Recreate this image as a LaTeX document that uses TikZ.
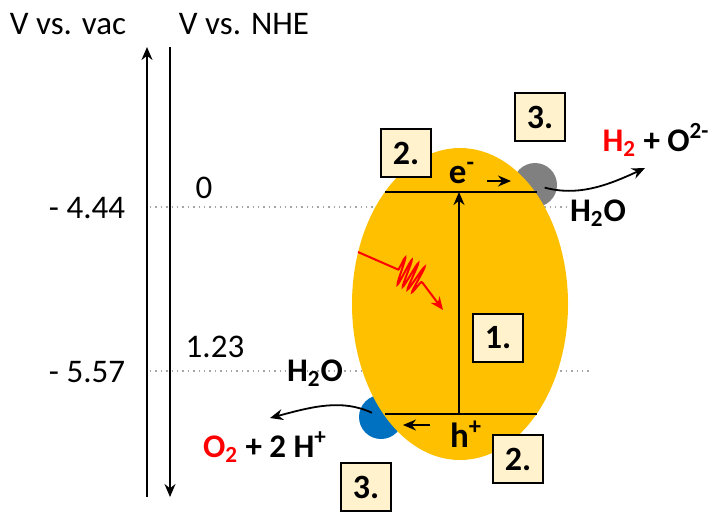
\documentclass[tikz,border=0pt]{standalone}
\usepackage{fontspec}
\setmainfont{Carlito}
\usetikzlibrary{arrows.meta, positioning, decorations.pathmorphing}
\definecolor{gold1}{RGB}{255,192,0}
\definecolor{grey1}{RGB}{128,128,128}
\definecolor{blue1}{RGB}{0,112,192}
\definecolor{cream1}{RGB}{255,242,204}
\definecolor{dot1}{RGB}{165,165,165}

\begin{document}
\begin{tikzpicture}[x=0.5pt, y=-0.5pt,
  numbox/.style={draw, line width=1pt, fill=cream1, minimum width=25pt, minimum height=24pt, inner sep=0pt, font=\fontsize{17}{18}\selectfont\bfseries},
  lbl/.style={font=\fontsize{16.5}{18}\selectfont, inner sep=1pt},
  chem/.style={font=\fontsize{16.5}{18}\selectfont\bfseries, inner sep=1pt},
  level/.style={line width=1pt},
  guide/.style={dot1, dotted, line width=0.7pt},
  flow/.style={-{Stealth[length=6.5pt, width=5.5pt]}, line width=0.9pt},
  cocat/.style={circle, minimum size=22pt, inner sep=0pt}
]
  \useasboundingbox (0,0) rectangle (711,511);

  % axes
  \node[lbl] (vac) at (68,24) {V vs. vac};
  \node[lbl] (nhe) at (244,24) {V vs. NHE};
  \coordinate (vacB) at (147,497);
  \coordinate (vacT) at (147,47);
  \coordinate (nheT) at (170,47);
  \coordinate (nheB) at (170,497);
  \draw[flow] (vacB) -- (vacT);
  \draw[flow] (nheT) -- (nheB);

  \node[lbl] (vacA) at (87,208) {- 4.44};
  \node[lbl] (vacB2) at (87,372) {- 5.57};
  \node[lbl] (nheA) at (204,188) {0};
  \node[lbl] (nheB2) at (215,347) {1.23};

  \draw[guide] (150,207) -- (570,207);
  \draw[guide] (150,371) -- (592,371);

  % particle with co-catalysts
  \node[cocat, fill=grey1] (gcat) at (535,185) {};
  \node[cocat, fill=blue1] (bcat) at (381,417) {};
  \fill[gold1] (460,304) ellipse [x radius=54pt, y radius=78pt];

  \coordinate (cbL) at (385,192);
  \coordinate (cbR) at (537,192);
  \coordinate (vbL) at (385,414);
  \coordinate (vbR) at (537,414);
  \draw[level] (cbL) -- (cbR);
  \draw[level] (vbL) -- (vbR);
  \coordinate (exB) at (459,414);
  \coordinate (exT) at (459,192);
  \draw[flow] (exB) -- (exT);

  \node[chem, font=\fontsize{17.5}{18}\selectfont\bfseries] (elec) at (462,173) {e\textsuperscript{-}};
  \coordinate (eA) at (487,181);
  \coordinate (eB) at (511,181);
  \draw[flow, line width=0.8pt] (eA) -- (eB);
  \node[chem, font=\fontsize{17.5}{18}\selectfont\bfseries] (hole) at (466,434) {h\textsuperscript{+}};
  \coordinate (hA) at (430,425);
  \coordinate (hB) at (403,425);
  \draw[flow, line width=0.8pt] (hA) -- (hB);

  % light
  \coordinate (phA) at (358,252);
  \coordinate (phB) at (443,310);
  \draw[red, line width=1pt, -{Stealth[length=6.5pt, width=5.5pt]}, decorate,
    decoration={snake, amplitude=7pt, segment length=3.2pt, pre length=22pt, post length=17pt}]
    (phA) .. controls (385,270) and (425,268) .. (phB);

  % reactions
  \node[chem] (h2) at (656,140) {\textcolor{red}{H\textsubscript{2}} + O\textsuperscript{2-}};
  \node[chem] (w1) at (598,213) {H\textsubscript{2}O};
  \coordinate (h2tip) at (645,168);
  \draw[flow] (gcat.center) [shorten <=5pt] to[out=-15, in=205] (h2tip);

  \node[chem] (w2) at (315,373) {H\textsubscript{2}O};
  \node[chem] (o2) at (265,447) {\textcolor{red}{O\textsubscript{2}} + 2 H\textsuperscript{+}};
  \coordinate (o2tip) at (270,418);
  \draw[flow] (bcat.center) [shorten <=5pt] to[out=155, in=15] (o2tip);

  % steps
  \node[numbox] (s3a) at (540,117) {3.};
  \node[numbox] (s2a) at (406,153) {2.};
  \node[numbox] (s1) at (498,338) {1.};
  \node[numbox] (s2b) at (518,459) {2.};
  \node[numbox] (s3b) at (366,487) {3.};
\end{tikzpicture}
\end{document}
